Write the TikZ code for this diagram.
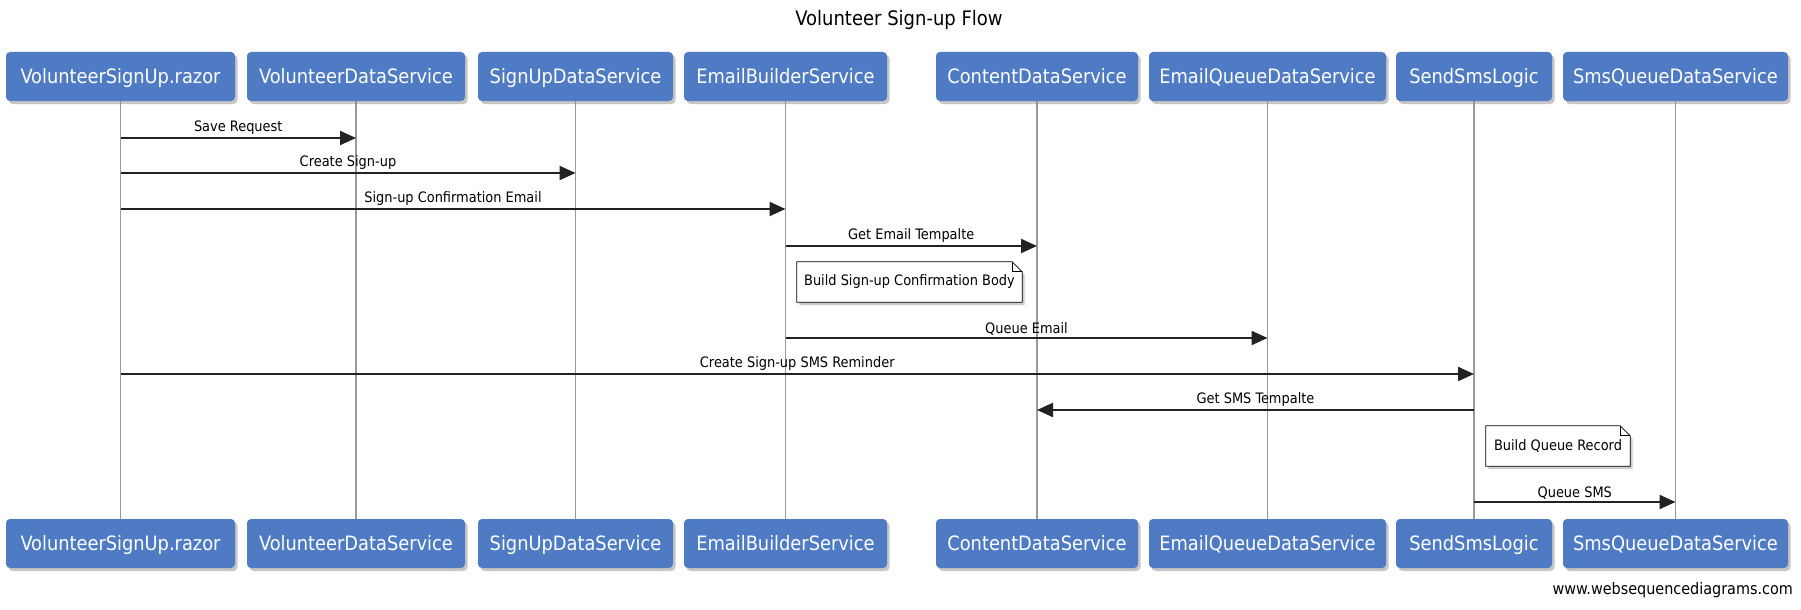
\documentclass[tikz,border=0pt]{standalone}
\usepackage{fontspec}
\setmainfont{DejaVu Sans Condensed}
\usetikzlibrary{shadows,backgrounds,arrows.meta}
\definecolor{boxblue}{HTML}{4F7BC4}
\definecolor{lifegray}{HTML}{9A9A9A}
\definecolor{arrowcol}{HTML}{222222}
\tikzset{
  actor/.style={draw=none, fill=boxblue, rounded corners=4pt, minimum height=49pt,
    text=white, font=\fontsize{19.8}{22}\selectfont, inner sep=0pt,
    text height=15pt, text depth=2pt,
    drop shadow={shadow xshift=2.5pt, shadow yshift=-3pt, opacity=0.45}},
  lifeline/.style={draw=lifegray, line width=1.5pt},
  msg/.style={draw=arrowcol, line width=2.2pt, -{Triangle[length=16pt,width=14pt]}},
  msglabel/.style={font=\fontsize{14.4}{16}\selectfont, inner sep=2pt, anchor=south},
  notetext/.style={font=\fontsize{14.4}{16}\selectfont, inner sep=0pt, minimum height=40pt},
  notebox/.style={draw=black, line width=0.8pt, fill=white,
    drop shadow={shadow xshift=2.5pt, shadow yshift=-3pt, opacity=0.4}},
  fold/.style={draw=black, line width=0.8pt}
}
\begin{document}
\begin{tikzpicture}[x=1pt,y=-1pt]
\useasboundingbox (0,0) rectangle (1801,610);

\node[font=\fontsize{20}{24}\selectfont] (title) at (899,20) {Volunteer Sign-up Flow};

\foreach \n/\cx/\w/\txt in {
  1/120.5/229/VolunteerSignUp.razor,
  2/356/218/VolunteerDataService,
  3/575.5/195/SignUpDataService,
  4/785.5/203/EmailBuilderService,
  5/1037/202/ContentDataService,
  6/1267.5/237/EmailQueueDataService,
  7/1474/156/SendSmsLogic,
  8/1675.5/225/SmsQueueDataService} {
  \node[actor, minimum width=\w pt] (t\n) at (\cx,76.5) {\txt};
  \node[actor, minimum width=\w pt] (b\n) at (\cx,543.5) {\txt};
}
\begin{scope}[on background layer]
\foreach \n in {1,...,8} {
  \draw[lifeline] (t\n.south) -- (b\n.north);
}
\end{scope}

% messages
\draw[msg] (t1 |- 0,138) -- (t2 |- 0,138) node[msglabel, midway] (l1) {Save Request};
\draw[msg] (t1 |- 0,173) -- (t3 |- 0,173) node[msglabel, midway] (l2) {Create Sign-up};
\draw[msg] (t1 |- 0,209) -- (t4 |- 0,209) node[msglabel, midway] (l3) {Sign-up Confirmation Email};
\draw[msg] (t4 |- 0,246) -- (t5 |- 0,246) node[msglabel, midway] (l4) {Get Email Tempalte};

% note 1
\node[notetext, minimum width=225pt] (n1) at (909.5,282) {Build Sign-up Confirmation Body};
\begin{scope}[on background layer]
\draw[notebox] (n1.north west) -- ([xshift=-10pt]n1.north east) -- ([yshift=-10pt]n1.north east)
  -- (n1.south east) -- (n1.south west) -- cycle;
\end{scope}
\draw[fold] ([xshift=-10pt]n1.north east) -- ([xshift=-10pt,yshift=-10pt]n1.north east) -- ([yshift=-10pt]n1.north east);

\draw[msg] (t4 |- 0,338) -- (t6 |- 0,338) node[msglabel, midway] (l5) {Queue Email};
\draw[msg] (t1 |- 0,374) -- (t7 |- 0,374) node[msglabel, midway] (l6) {Create Sign-up SMS Reminder};
\draw[msg] (t7 |- 0,410) -- (t5 |- 0,410) node[msglabel, midway] (l7) {Get SMS Tempalte};

% note 2
\node[notetext, minimum width=144pt] (n2) at (1558,446) {Build Queue Record};
\begin{scope}[on background layer]
\draw[notebox] (n2.north west) -- ([xshift=-10pt]n2.north east) -- ([yshift=-10pt]n2.north east)
  -- (n2.south east) -- (n2.south west) -- cycle;
\end{scope}
\draw[fold] ([xshift=-10pt]n2.north east) -- ([xshift=-10pt,yshift=-10pt]n2.north east) -- ([yshift=-10pt]n2.north east);

\draw[msg] (t7 |- 0,502) -- (t8 |- 0,502) node[msglabel, midway] (l8) {Queue SMS};

\node[anchor=east, font=\fontsize{16}{18}\selectfont, inner sep=0pt] (wm) at (1793,590) {www.websequencediagrams.com};
\end{tikzpicture}
\end{document}
